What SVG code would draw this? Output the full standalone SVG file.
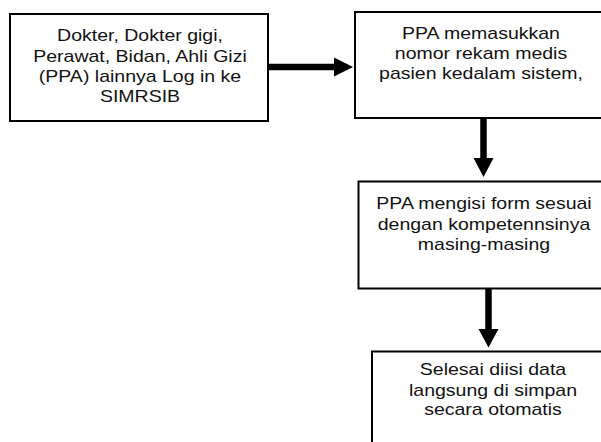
<svg xmlns="http://www.w3.org/2000/svg" width="601" height="442" viewBox="0 0 601 442">
  <style>
    .box { fill: #ffffff; stroke: #000000; stroke-width: 2; }
    .lbl { font-family: "Liberation Sans", Arial, sans-serif; font-size: 16.4px; fill: #111111; text-anchor: middle; }
    .wire { stroke: #000000; stroke-width: 6.5; fill: none; }
    .head { fill: #000000; }
  </style>
  <rect width="601" height="442" fill="#ffffff"/>

  <!-- step 1: login -->
  <g id="node-login">
    <rect class="box" x="10" y="14" width="258" height="107"/>
    <g transform="translate(140,0) scale(1.19,1)">
      <text class="lbl" x="0" y="41.5">Dokter, Dokter gigi,</text>
      <text class="lbl" x="0" y="62">Perawat, Bidan, Ahli Gizi</text>
      <text class="lbl" x="0" y="82">(PPA) lainnya Log in ke</text>
      <text class="lbl" x="0" y="102">SIMRSIB</text>
    </g>
  </g>

  <!-- step 2: enter medical record number -->
  <g id="node-input">
    <rect class="box" x="355" y="12" width="252" height="106"/>
    <g transform="translate(481,0) scale(1.19,1)">
      <text class="lbl" x="0" y="39.5">PPA memasukkan</text>
      <text class="lbl" x="0" y="59.5">nomor rekam medis</text>
      <text class="lbl" x="0" y="79.5">pasien kedalam sistem,</text>
    </g>
  </g>

  <!-- step 3: fill in form -->
  <g id="node-form">
    <rect class="box" x="358.5" y="181.5" width="252" height="107"/>
    <g transform="translate(484,0) scale(1.19,1)">
      <text class="lbl" x="0" y="209">PPA mengisi form sesuai</text>
      <text class="lbl" x="0" y="230">dengan kompetennsinya</text>
      <text class="lbl" x="0" y="250">masing-masing</text>
    </g>
  </g>

  <!-- step 4: saved automatically -->
  <g id="node-save">
    <rect class="box" x="372" y="351.5" width="250" height="110"/>
    <g transform="translate(493,0) scale(1.19,1)">
      <text class="lbl" x="0" y="375">Selesai diisi data</text>
      <text class="lbl" x="0" y="396">langsung di simpan</text>
      <text class="lbl" x="0" y="415.5">secara otomatis</text>
    </g>
  </g>

  <!-- connectors -->
  <g id="connectors">
    <line class="wire" x1="269" y1="67" x2="336" y2="67"/>
    <polygon class="head" points="334,57.5 353,67 334,76.5"/>

    <line class="wire" x1="483.5" y1="119" x2="483.5" y2="160"/>
    <polygon class="head" points="473.5,158 493.5,158 483.5,177"/>

    <line class="wire" x1="488.5" y1="289" x2="488.5" y2="331"/>
    <polygon class="head" points="478.5,329 498.5,329 488.5,347.5"/>
  </g>
</svg>
